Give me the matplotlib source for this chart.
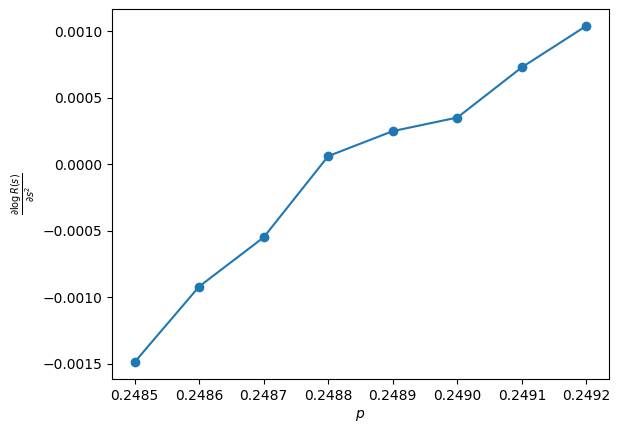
import matplotlib
matplotlib.use("Agg")
import matplotlib.pyplot as plt

p = [0.2485, 0.2486, 0.2487, 0.2488, 0.2489, 0.2490, 0.2491, 0.2492]
dlogR = [-0.00149, -0.000921, -0.000551, 0.00006, 0.000248, 0.000350, 0.000728, 0.00104]

fig = plt.figure(figsize=(6.2, 4.33), dpi=100)
ax = fig.add_axes([112/620, 1-379/433, (609-112)/620, (379-9)/433])
ax.plot(p, dlogR, marker='o')
ax.set_xlabel('$p$')
ax.set_ylabel(r'$\frac{\partial \log R(s)}{\partial s^2}$')
fig.savefig('out.png', dpi=100)
